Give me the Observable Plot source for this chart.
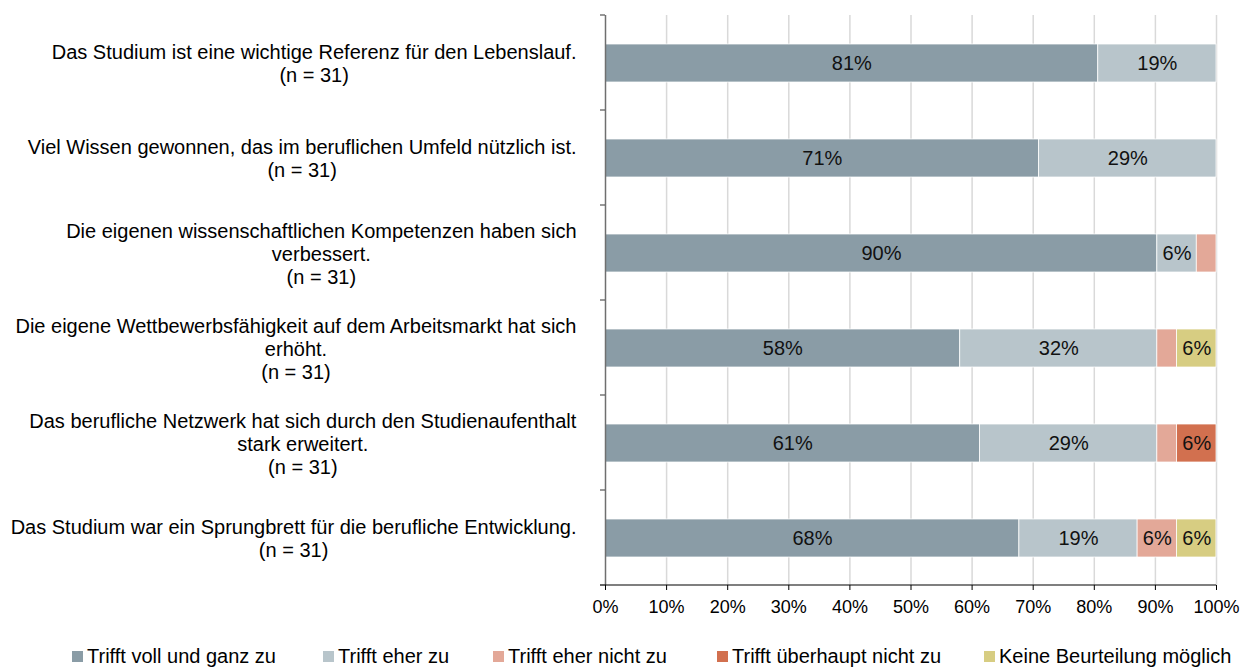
<!DOCTYPE html>
<html><head><meta charset="utf-8">
<script src="https://cdn.jsdelivr.net/npm/d3@7"></script>
<script src="https://cdn.jsdelivr.net/npm/@observablehq/plot@0.6"></script>
<style>
body{margin:0;background:#fff;font-family:"Liberation Sans",Arial,sans-serif;}
#wrap{position:relative;width:1242px;height:667px;overflow:hidden}
#legend{position:absolute;left:0;top:645px;width:1242px;height:22px;font-size:20px;color:#000}
.item{position:absolute;top:0;height:22px;display:flex;align-items:center;white-space:nowrap}
.sw{width:11px;height:11px;margin-right:4px}
</style></head><body><div id="wrap"><div id="chart"></div><div id="legend"></div></div>
<script>
const categories = [
  "Das Studium ist eine wichtige Referenz für den Lebenslauf.\n(n = 31)",
  "Viel Wissen gewonnen, das im beruflichen Umfeld nützlich ist.\n(n = 31)",
  "Die eigenen wissenschaftlichen Kompetenzen haben sich\nverbessert.\n(n = 31)",
  "Die eigene Wettbewerbsfähigkeit auf dem Arbeitsmarkt hat sich\nerhöht.\n(n = 31)",
  "Das berufliche Netzwerk hat sich durch den Studienaufenthalt\nstark erweitert.\n(n = 31)",
  "Das Studium war ein Sprungbrett für die berufliche Entwicklung.\n(n = 31)"
];
const responses = ["Trifft voll und ganz zu", "Trifft eher zu", "Trifft eher nicht zu", "Trifft überhaupt nicht zu", "Keine Beurteilung möglich"];
const colors = ["#8a9ca6", "#b8c5cb", "#e3a898", "#d2704f", "#d7cd82"];
const vollUndGanz     = [80.65, 70.97, 90.32, 58.06, 61.29, 67.74];
const eherZu          = [19.35, 29.03,  6.45, 32.26, 29.03, 19.35];
const eherNicht       = [0,     0,      3.23,  3.23,  3.23,  6.45];
const ueberhauptNicht = [0,     0,      0,     0,     6.45,  0];
const keineBeurteilung= [0,     0,      0,     6.45,  0,     6.45];
const xTicks = [0, 10, 20, 30, 40, 50, 60, 70, 80, 90, 100];
const legendLeft = [72, 323, 493, 717, 984];

const series = [vollUndGanz, eherZu, eherNicht, ueberhauptNicht, keineBeurteilung];
const rows = [];
categories.forEach((c, i) => {
  responses.forEach((r, j) => {
    const v = series[j][i];
    if (v > 0) rows.push({cat: c, resp: r, value: v});
  });
});

const font = '"Liberation Sans", Arial, sans-serif';
const chart = Plot.plot({
  width: 1242, height: 625,
  marginLeft: 605, marginRight: 26, marginTop: 15, marginBottom: 40,
  style: {fontFamily: font, fontSize: "18px", color: "#000", background: "#fff"},
  x: {domain: [0, 100], label: null},
  y: {domain: categories, paddingInner: 0.6, paddingOuter: 0.3, label: null},
  color: {domain: responses, range: colors},
  marks: [
    Plot.ruleX(xTicks.slice(1), {stroke: "#d9d9d9", strokeWidth: 1.5}),
    Plot.barX(rows, {x: "value", y: "cat", z: "resp", fill: "resp", stroke: "#fff", strokeWidth: 0.75}),
    Plot.text(rows, Plot.stackX({x: "value", y: "cat", z: "resp",
      text: d => d.value >= 5 ? Math.round(d.value) + "%" : "", fill: "#111", fontSize: 20})),
    Plot.axisX({ticks: xTicks, tickSize: 5, tickPadding: 10, tickFormat: d => d + "%", fontSize: 18, label: null, stroke: "#000"}),
    Plot.axisY({tickSize: 0, tickPadding: 29, lineHeight: 1.15, fontSize: 20, label: null, textAnchor: "end"}),
    Plot.ruleX([0], {stroke: "#6f6f6f", strokeWidth: 1.5})
  ]
});
document.getElementById("chart").appendChild(chart);

// axis decorations
const svg = d3.select(chart);
const xs = chart.scale("x"), ys = chart.scale("y");
const x0 = xs.apply(0), x100 = xs.apply(100);
const yTop = ys.range[0], yBot = ys.range[1];
const stepY = (yBot - yTop) / categories.length;
const deco = svg.append("g");
deco.append("line").attr("x1", x0 - 5).attr("x2", x100).attr("y1", yBot).attr("y2", yBot).attr("stroke", "#000").attr("stroke-width", 1.2);
d3.range(categories.length + 1).forEach(i => {
  const yy = yTop + i * stepY;
  deco.append("line").attr("x1", x0 - 5).attr("x2", x0).attr("y1", yy).attr("y2", yy).attr("stroke", "#555").attr("stroke-width", 1.2);
});

// center multi-line category labels
svg.selectAll('g[aria-label="y-axis tick label"] text').each(function() {
  const b = this.getBBox();
  const t = d3.select(this);
  const tr = t.attr("transform") || "";
  t.attr("text-anchor", "middle").attr("transform", tr + ` translate(${-b.width / 2},0)`);
});

// legend
const lg = d3.select("#legend");
responses.forEach((r, j) => {
  const it = lg.append("div").attr("class", "item").style("left", legendLeft[j] + "px");
  it.append("div").attr("class", "sw").style("background", colors[j]);
  it.append("span").text(r);
});
</script></body></html>
